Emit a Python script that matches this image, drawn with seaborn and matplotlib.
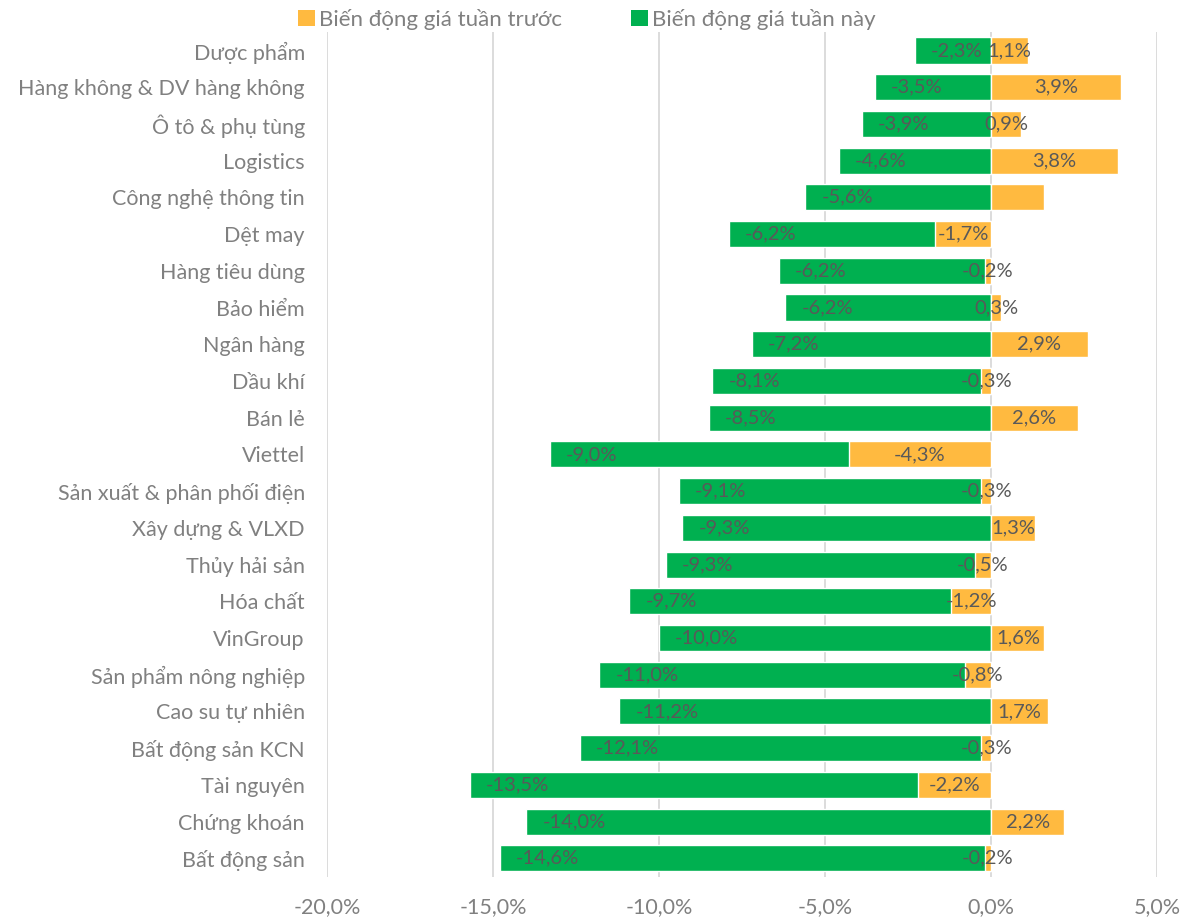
import matplotlib
matplotlib.use("Agg")
import matplotlib.pyplot as plt
from matplotlib.patches import Patch
import numpy as np
import pandas as pd
import seaborn as sns

categories = [
    "Dược phẩm", "Hàng không & DV hàng không", "Ô tô & phụ tùng", "Logistics",
    "Công nghệ thông tin", "Dệt may", "Hàng tiêu dùng", "Bảo hiểm", "Ngân hàng",
    "Dầu khí", "Bán lẻ", "Viettel", "Sản xuất & phân phối điện", "Xây dựng & VLXD",
    "Thủy hải sản", "Hóa chất", "VinGroup", "Sản phẩm nông nghiệp", "Cao su tự nhiên",
    "Bất động sản KCN", "Tài nguyên", "Chứng khoán", "Bất động sản",
]
this_week = [-2.3, -3.5, -3.9, -4.6, -5.6, -6.2, -6.2, -6.2, -7.2, -8.1, -8.5, -9.0,
             -9.1, -9.3, -9.3, -9.7, -10.0, -11.0, -11.2, -12.1, -13.5, -14.0, -14.6]
last_week = [1.1, 3.9, 0.9, 3.8, 1.6, -1.7, -0.2, 0.3, 2.9, -0.3, 2.6, -4.3,
             -0.3, 1.3, -0.5, -1.2, 1.6, -0.8, 1.7, -0.3, -2.2, 2.2, -0.2]
show_last_label = [True] * len(categories)
show_last_label[4] = False

x_ticks = [-20, -15, -10, -5, 0, 5]
series_names = ["Biến động giá tuần trước", "Biến động giá tuần này"]

GREEN = "#00B050"
ORANGE = "#FFBA40"
TEXT_DARK = "#595959"
TEXT_GRAY = "#808080"

sns.set_theme(style="white")
plt.rcParams["font.family"] = ["Lato", "DejaVu Sans"]

df = pd.DataFrame({"cat": categories, "this": this_week, "last": last_week})
df["last_neg"] = df["last"].clip(upper=0)
df["green_end"] = df["this"] + df["last_neg"]

fig = plt.figure(figsize=(11.81, 9.18), dpi=100)
ax = fig.add_axes([0.277, 0.045, 0.703, 0.92])
ax.set_axisbelow(True)
ax.xaxis.grid(True, color="#D9D9D9", linewidth=1.3, zorder=0)

sns.barplot(data=df, x="green_end", y="cat", order=categories, color=GREEN,
            saturation=1, width=0.71, edgecolor="white", linewidth=1,
            errorbar=None, ax=ax, zorder=2)
sns.barplot(data=df, x="last", y="cat", order=categories, color=ORANGE,
            saturation=1, width=0.71, edgecolor="white", linewidth=1,
            errorbar=None, ax=ax, zorder=3)

def fmt(v):
    return f"{v:.1f}%".replace(".", ",")

for i, row in df.iterrows():
    ax.annotate(fmt(row["this"]), xy=(row["green_end"], i), xytext=(11.5, 0),
                textcoords="offset points", ha="left", va="center",
                color=TEXT_DARK, fontsize=14.5, zorder=5)
    if show_last_label[i]:
        ax.text(row["last"] / 2, i, fmt(row["last"]), ha="center", va="center",
                color=TEXT_DARK, fontsize=14.5, zorder=5)

ax.set_xlim(-20, 5)
ax.set_xticks(x_ticks)
ax.set_xticklabels([fmt(v) for v in x_ticks])
ax.set_xlabel("")
ax.set_ylabel("")
ax.tick_params(axis="x", length=0, pad=15, labelsize=15.5, labelcolor=TEXT_GRAY)
ax.tick_params(axis="y", length=0, pad=16, labelsize=15.5, labelcolor=TEXT_GRAY)
sns.despine(ax=ax, left=True, bottom=True)

handles = [Patch(facecolor=ORANGE, edgecolor="none"), Patch(facecolor=GREEN, edgecolor="none")]
leg = fig.legend(handles, series_names, loc="upper center", bbox_to_anchor=(0.497, 1.012),
                 ncol=2, frameon=False, fontsize=16, handlelength=0.75, handleheight=0.75,
                 handletextpad=0.2, columnspacing=3.1)
for t in leg.get_texts():
    t.set_color(TEXT_GRAY)

fig.savefig("out.png", dpi=100)
